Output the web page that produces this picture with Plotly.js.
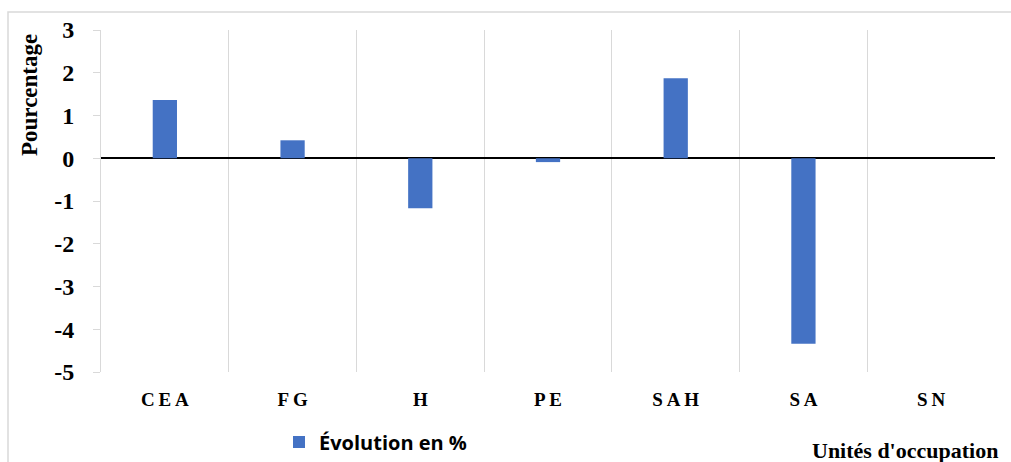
<!DOCTYPE html>
<html><head><meta charset="utf-8">
<script src="https://cdn.plot.ly/plotly-3.0.1.min.js"></script>
<style>html,body{margin:0;padding:0;background:#fff}#chart{width:1011px;height:462px}</style>
</head><body><div id="chart"></div>
<script>
const categories = ["CEA", "FG", "H", "PE", "SAH", "SA", "SN"];
const categoryLabels = ["C\u2009E\u2009A", "F\u2009G", "H", "P\u2009E", "S\u2009A\u2009H", "S\u2009A", "S\u2009N"];
const evolution = [1.36, 0.42, -1.17, -0.09, 1.87, -4.34, 0];
const yTickVals = [-5, -4, -3, -2, -1, 0, 1, 2, 3];
const yTickText = ["-5", "-4", "-3", "-2", "-1", "0", "1", "2", "3"];
const seriesName = "Évolution en %";
const yTitle = "Pourcentage";
const xTitle = "Unités d'occupation";

const serif = "Liberation Serif";
const trace = {
  type: "bar", x: categories, y: evolution, name: seriesName,
  marker: {color: "#4472C4", line: {width: 0}},
  showlegend: true
};
const layout = {
  width: 1011, height: 462,
  margin: {l: 101, r: 16, t: 30, b: 90, autoexpand: false},
  paper_bgcolor: "#fff", plot_bgcolor: "#fff",
  bargap: 0.81,
  xaxis: {
    type: "category", tickmode: "array", tickvals: categories, ticktext: categoryLabels,
    tickson: "boundaries", ticks: "", showgrid: true, gridcolor: "#d9d9d9", gridwidth: 1,
    showline: false, ticklabelstandoff: 14, automargin: false,
    tickfont: {family: serif, size: 19, color: "#000", weight: "bold"},
    range: [-0.5, 6.5], fixedrange: true
  },
  yaxis: {
    range: [-5, 3], tickmode: "array", tickvals: yTickVals, ticktext: yTickText,
    showgrid: false, zeroline: true, zerolinecolor: "#000", zerolinewidth: 2,
    showline: true, linecolor: "#d9d9d9", linewidth: 1, automargin: false,
    ticks: "outside", ticklen: 7, tickcolor: "#d9d9d9", ticklabelstandoff: 14,
    tickfont: {family: serif, size: 24, color: "#000", weight: "bold"},
    fixedrange: true
  },
  showlegend: true,
  legend: {
    orientation: "h", x: (279 - 101) / 894, xanchor: "left", y: (372 - 442) / 342, yanchor: "middle",
    font: {family: "Open Sans", size: 20, color: "#000", weight: "bold"},
    bgcolor: "rgba(0,0,0,0)"
  },
  shapes: [{
    type: "rect", xref: "paper", yref: "paper",
    x0: (8 - 101) / 894, x1: (1020 - 101) / 894, y0: (372 - 480) / 342, y1: (372 - 12) / 342,
    line: {color: "#d9d9d9", width: 1.5}, fillcolor: "rgba(0,0,0,0)", layer: "below"
  }],
  annotations: [
    {text: yTitle, xref: "paper", yref: "paper", x: (30 - 101) / 894, y: (372 - 95) / 342,
     xanchor: "center", yanchor: "middle", textangle: -90, showarrow: false,
     font: {family: serif, size: 23, color: "#000", weight: "bold"}},
    {text: xTitle, xref: "paper", yref: "paper", x: (810 - 101) / 894, y: (372 - 451) / 342,
     xanchor: "left", yanchor: "middle", showarrow: false,
     font: {family: serif, size: 22, color: "#000", weight: "bold"}}
  ]
};
Plotly.newPlot("chart", [trace], layout, {displayModeBar: false, staticPlot: true});
</script></body></html>
